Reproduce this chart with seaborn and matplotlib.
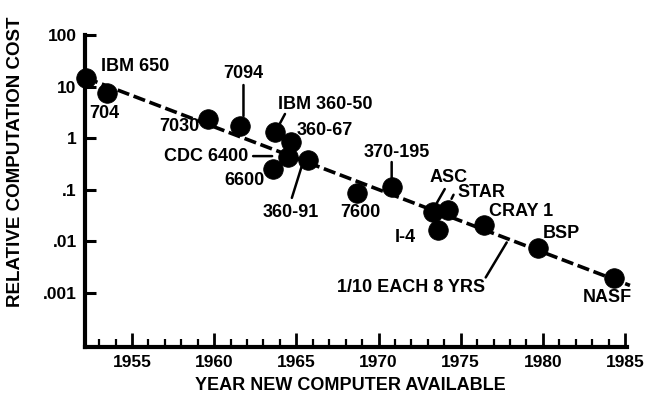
import numpy as np
import pandas as pd
import matplotlib
matplotlib.use("Agg")
import matplotlib.pyplot as plt
from matplotlib.transforms import offset_copy
import seaborn as sns

# ---------------- data ----------------
names = ["IBM 650", "704", "7030", "7094", "IBM 360-50", "360-67", "CDC 6400",
         "6600", "360-91", "7600", "370-195", "ASC", "STAR", "I-4", "CRAY 1",
         "BSP", "NASF"]
years = [1952.2, 1953.5, 1959.6, 1961.6, 1963.7, 1964.7, 1964.5, 1963.6,
         1965.7, 1968.7, 1970.8, 1973.3, 1974.2, 1973.6, 1976.4, 1979.7, 1984.3]
costs = [14.7, 7.5, 2.36, 1.72, 1.32, 0.84, 0.43, 0.25, 0.38, 0.087, 0.113,
         0.037, 0.041, 0.0166, 0.0208, 0.0074, 0.00195]

trend_years = [1952.2, 1985.3]
trend_costs = [14.7, 0.0014]
trend_label = "1/10 EACH 8 YRS"
trend_label_year = 1977.8

y_ticks = [100, 10, 1, 0.1, 0.01, 0.001]
y_ticklabels = ["100", "10", "1", ".1", ".01", ".001"]
x_ticks = [1955, 1960, 1965, 1970, 1975, 1980, 1985]
x_ticklabels = ["1955", "1960", "1965", "1970", "1975", "1980", "1985"]
x_label = "YEAR NEW COMPUTER AVAILABLE"
y_label = "RELATIVE COMPUTATION COST"

# ---------------- label placement (pixel offsets, y up) ----------------
label_pos = {
    "IBM 650": (15, 11, "left"),
    "704": (-3, -20, "center"),
    "7030": (-8, -8, "right"),
    "7094": (3, 53, "center"),
    "IBM 360-50": (3, 27, "left"),
    "360-67": (5, 12, "left"),
    "CDC 6400": (-40, 1, "right"),
    "6600": (-9, -11, "right"),
    "360-91": (-17, -53, "center"),
    "7600": (3, -20, "center"),
    "370-195": (5, 35, "center"),
    "ASC": (16, 35, "center"),
    "STAR": (10, 17, "left"),
    "I-4": (-32, -7, "center"),
    "CRAY 1": (5, 13, "left"),
    "BSP": (5, 15, "left"),
    "NASF": (-6, -19, "center"),
}
leaders = {
    "7094": ((3, 41), (3, 10)),
    "IBM 360-50": ((10, 18), (2, 3)),
    "CDC 6400": ((-35, 1), (-16, 1)),
    "360-91": ((-16, -38), (-6, -6)),
    "370-195": ((0, 25), (0, 9)),
    "ASC": ((12, 23), (4, 9)),
    "STAR": ((6, 15), (4, 11)),
}

sns.set_theme(style="ticks")
FONT = ["Liberation Sans", "DejaVu Sans"]
plt.rcParams["font.family"] = FONT
plt.rcParams["font.weight"] = "bold"
plt.rcParams["text.color"] = "black"
plt.rcParams["axes.labelcolor"] = "black"
plt.rcParams["xtick.color"] = "black"
plt.rcParams["ytick.color"] = "black"
plt.rcParams["xtick.labelcolor"] = "black"
plt.rcParams["ytick.labelcolor"] = "black"

fig = plt.figure(figsize=(6.5, 4), dpi=100)
ax = fig.add_axes([85 / 650, 53 / 400, 542 / 650, 312 / 400])

df = pd.DataFrame({"year": years, "cost": costs, "name": names})
tdf = pd.DataFrame({"year": trend_years, "cost": trend_costs})

sns.lineplot(data=tdf, x="year", y="cost", ax=ax, color="black", lw=2.6,
             dashes=False, zorder=2, clip_on=False)
ax.lines[-1].set_dashes((3.4, 1.3))
sns.scatterplot(data=df, x="year", y="cost", ax=ax, color="black", s=200,
                edgecolor="black", linewidth=0.5, zorder=4, clip_on=False,
                legend=False)

ax.set_yscale("log")
ax.set_xlim(1952.14, 1985.12)
ax.set_ylim(10 ** -4.047, 100)

for sp in ["top", "right"]:
    ax.spines[sp].set_visible(False)
for sp in ["left", "bottom"]:
    ax.spines[sp].set_linewidth(3)
    ax.spines[sp].set_color("black")

ax.set_yticks(y_ticks)
ax.set_yticklabels(y_ticklabels)
ax.yaxis.set_minor_locator(matplotlib.ticker.NullLocator())
ax.set_xticks(x_ticks)
ax.set_xticklabels(x_ticklabels)
ax.set_xticks(np.arange(1953, 1986, 1), minor=True)
ax.tick_params(axis="y", which="major", direction="in", length=8, width=2.2,
               labelsize=12.5, pad=6, color="black", labelcolor="black")
ax.tick_params(axis="x", which="major", direction="in", length=10, width=2,
               labelsize=12.5, pad=6, color="black", labelcolor="black")
ax.tick_params(axis="x", which="minor", direction="in", length=5.5, width=1.6,
               color="black")
for lab in ax.get_xticklabels() + ax.get_yticklabels():
    lab.set_fontweight("bold")

ax.set_xlabel(x_label, fontsize=13, fontweight="bold", color="black")
ax.set_ylabel(y_label, fontsize=13.5, fontweight="bold", color="black")
ax.xaxis.set_label_coords(0.49, -0.125)
ax.xaxis.label.set_va("center")
ax.yaxis.set_label_coords(-0.129, 0.593)
ax.yaxis.label.set_va("center")

def off(dx, dy):
    return offset_copy(ax.transData, fig=fig, x=dx, y=dy, units="dots")

for n, x, y in zip(names, years, costs):
    dx, dy, ha = label_pos[n]
    ax.text(x, y, n, transform=off(dx, dy), ha=ha, va="center",
            fontsize=13, fontweight="bold", color="black", zorder=5)
    if n in leaders:
        (x1, y1), (x2, y2) = leaders[n]
        ax.annotate("", xy=(x, y), xycoords=off(x2, y2),
                    xytext=(x, y), textcoords=off(x1, y1),
                    arrowprops=dict(arrowstyle="-", lw=1.8, color="black",
                                    shrinkA=0, shrinkB=0), zorder=3)

# trend line annotation
ly = 10 ** np.interp(trend_label_year, trend_years, np.log10(trend_costs))
ax.text(trend_label_year, ly, trend_label, transform=off(-22, -49), ha="right",
        va="center", fontsize=13, fontweight="bold", color="black")
ax.annotate("", xy=(trend_label_year, ly), xycoords=off(0, -4),
            xytext=(trend_label_year, ly), textcoords=off(-21, -39),
            arrowprops=dict(arrowstyle="-", lw=1.8, color="black",
                            shrinkA=0, shrinkB=0))

fig.savefig("out.png", dpi=100, facecolor="white")
